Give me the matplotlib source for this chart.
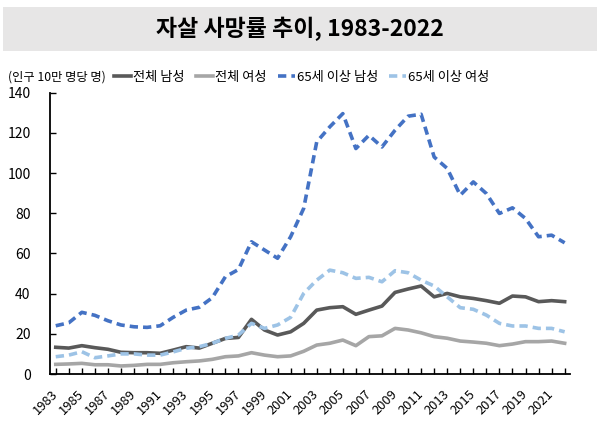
import matplotlib
matplotlib.use("Agg")
import matplotlib.pyplot as plt
from matplotlib.patches import Rectangle
import numpy as np

plt.rcParams['font.family'] = ['Noto Sans CJK KR', 'DejaVu Sans']

years = list(range(1983, 2023))
male_total = [13.3, 12.9, 14.1, 13.1, 12.3, 10.8, 10.6, 10.6, 10.3, 11.9,
              13.6, 12.9, 15.3, 17.7, 18.2, 27.2, 21.9, 19.4, 21.0, 25.2,
              31.8, 33.0, 33.5, 29.7, 31.8, 33.8, 40.6, 42.3, 43.8, 38.4,
              40.1, 38.4, 37.6, 36.5, 35.2, 38.8, 38.4, 36.0, 36.5, 36.0]
female_total = [4.8, 5.0, 5.3, 4.6, 4.6, 4.0, 4.3, 4.8, 4.8, 5.6,
                6.1, 6.5, 7.3, 8.6, 9.0, 10.6, 9.4, 8.6, 9.0, 11.3,
                14.4, 15.3, 16.9, 14.1, 18.6, 19.0, 22.7, 21.9, 20.5, 18.6,
                17.8, 16.4, 15.9, 15.3, 14.1, 14.9, 16.1, 16.1, 16.4, 15.3]
male_65 = [24.0, 25.5, 30.7, 29.2, 26.5, 24.4, 23.5, 23.2, 24.0, 28.2,
           31.8, 33.2, 38.0, 48.4, 52.0, 65.8, 61.7, 57.6, 68.3, 82.4,
           115.5, 123.0, 129.6, 112.2, 118.8, 113.0, 121.3, 128.3, 129.3, 108.0,
           102.3, 89.0, 95.6, 89.8, 79.9, 82.7, 77.4, 68.3, 69.1, 65.3]
female_65 = [8.6, 9.4, 11.1, 8.1, 9.0, 10.0, 10.0, 9.4, 9.4, 11.0,
             12.8, 13.6, 15.3, 17.7, 19.4, 25.2, 22.7, 24.4, 28.2, 40.1,
             46.7, 51.7, 50.4, 47.6, 48.1, 45.9, 51.4, 50.4, 46.7, 43.8,
             38.4, 33.0, 32.2, 29.3, 25.2, 23.9, 23.9, 22.7, 22.7, 21.0]

labels = ['전체 남성', '전체 여성', '65세 이상 남성', '65세 이상 여성']
title = '자살 사망률 추이, 1983-2022'
unit = '(인구 10만 명당 명)'
yticks = [0, 20, 40, 60, 80, 100, 120, 140]

fig = plt.figure(figsize=(6, 4.34), dpi=100)

# title banner
fig.patches.append(Rectangle((3/600, 1-51/434), 594/600, 44/434,
                             transform=fig.transFigure, facecolor='#e7e6e6',
                             edgecolor='none', zorder=0))
fig.text(0.5, 1-29/434, title, ha='center', va='center',
         fontsize=16.5, fontweight='bold', color='black')

ax = fig.add_axes([50/600, 1-374/434, 520/600, (374-92.7)/434])

x = np.arange(len(years))
lw = 2.6
h1, = ax.plot(x, male_total, color='#595959', lw=lw, solid_joinstyle='round')
h2, = ax.plot(x, female_total, color='#a6a6a6', lw=lw, solid_joinstyle='round')
h3, = ax.plot(x, male_65, color='#4472c4', lw=lw, dashes=(2.3, 1.4))
h4, = ax.plot(x, female_65, color='#9dc3e6', lw=lw, dashes=(2.3, 1.4))

ax.set_xlim(-0.44, 39.41)
ax.set_ylim(0, 140)
ax.set_yticks(yticks)
ax.set_yticklabels([str(v) for v in yticks], fontsize=10)
ax.set_xticks(x)
ax.set_xticklabels([str(y) if (y - 1983) % 2 == 0 else '' for y in years],
                   rotation=45, ha='right', va='center', rotation_mode='anchor',
                   fontsize=9.3)

ax.tick_params(axis='both', direction='in', length=4, width=1, color='black')
ax.tick_params(axis='y', pad=14)
ax.tick_params(axis='x', pad=13)
for s in ['top', 'right']:
    ax.spines[s].set_visible(False)
for s in ['left', 'bottom']:
    ax.spines[s].set_linewidth(1.3)
    ax.spines[s].set_color('black')

fig.text(8/600, 1-77/434, unit, ha='left', va='center', fontsize=8.8)
fig.legend([h1, h2, h3, h4], labels, loc='center left', ncol=4,
           bbox_to_anchor=(114/600, 1-77/434), frameon=False,
           fontsize=9.5, handlelength=1.3, handletextpad=0.15,
           columnspacing=0.85, borderaxespad=0, borderpad=0)

fig.savefig('out.png', dpi=100)
